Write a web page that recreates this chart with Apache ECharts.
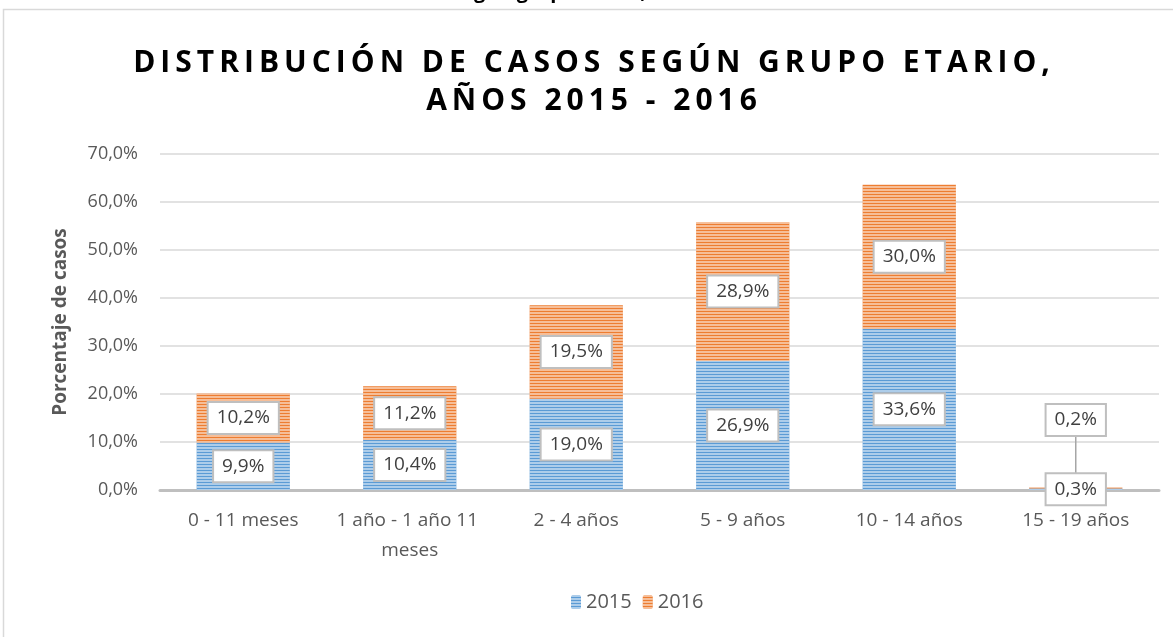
<!DOCTYPE html>
<html lang="es">
<head>
<meta charset="UTF-8">
<title>Distribución de casos según grupo etario</title>
<style>
    * { margin: 0; padding: 0; box-sizing: border-box; }
    html, body { width: 1173px; height: 637px; background: #fff; overflow: hidden; }
    #chart { position: absolute; left: 0; top: 0; width: 1173px; height: 637px; }
    .titulo {
        position: absolute;
        left: 0;
        top: 42px;
        width: 1188px;
        text-align: center;
        font-family: "Open Sans", sans-serif;
        font-weight: bold;
        font-size: 30px;
        line-height: 38px;
        letter-spacing: 5px;
        color: #000;
    }
</style>
</head>
<body>
<div id="chart"></div>
<div class="titulo">DISTRIBUCIÓN DE CASOS SEGÚN GRUPO ETARIO,<br>AÑOS 2015 - 2016</div>
<script src="https://cdn.jsdelivr.net/npm/echarts@6/dist/echarts.min.js"></script>
<script>
    // datos
    const grupos = ['0 - 11 meses', '1 año - 1 año 11 meses', '2 - 4 años', '5 - 9 años', '10 - 14 años', '15 - 19 años']
    const casos2015 = [9.9, 10.4, 19.0, 26.9, 33.6, 0.3]
    const casos2016 = [10.2, 11.2, 19.5, 28.9, 30.0, 0.2]
    const anios = ['2015', '2016']

    const fuente = '"Open Sans", sans-serif'
    const rayas = {
        symbol: 'rect',
        symbolSize: 1,
        dashArrayX: [1, 0],
        dashArrayY: [2, 1],
        rotation: 0,
        color: 'rgba(255,255,255,0.5)'
    }

    const etiqueta = {
        show: true,
        position: 'inside',
        formatter: p => p.value.toFixed(1).replace('.', ',') + '%',
        color: '#404040',
        fontFamily: fuente,
        fontSize: 19,
        backgroundColor: '#fff',
        borderColor: '#bfbfbf',
        borderWidth: 2,
        padding: [6, 8, 5, 8]
    }

    const chart = echarts.init(document.getElementById('chart'))

    const option = {
        animation: false,
        graphic: [
            {
                type: 'rect',
                shape: { x: 3.5, y: 9.5, width: 1300, height: 800 },
                style: { fill: null, stroke: '#d9d9d9', lineWidth: 1.5 },
                silent: true
            },
            {
                // título del documento, cortado arriba
                type: 'text',
                left: 235,
                top: -18,
                style: {
                    text: 'Distribución de casos según grupo etario, 2015 - 2016',
                    font: 'bold 20px "Open Sans", sans-serif',
                    fill: '#000'
                },
                silent: true
            }
        ],
        grid: { left: 160, right: 14, top: 154, bottom: 147 },
        legend: {
            data: anios,
            bottom: 20,
            left: 566,
            itemWidth: 10,
            itemHeight: 14,
            itemGap: 11,
            textStyle: { color: '#595959', fontSize: 20, fontFamily: fuente }
        },
        xAxis: {
            type: 'category',
            data: grupos,
            axisLine: { lineStyle: { color: '#bfbfbf', width: 3 } },
            axisTick: { show: false },
            axisLabel: {
                interval: 0,
                color: '#595959',
                fontSize: 19,
                fontFamily: fuente,
                margin: 16,
                width: 165,
                overflow: 'break',
                lineHeight: 30
            }
        },
        yAxis: {
            type: 'value',
            min: 0,
            max: 70,
            interval: 10,
            name: 'Porcentaje de casos',
            nameLocation: 'middle',
            nameGap: 90,
            nameTextStyle: { color: '#595959', fontSize: 19, fontWeight: 'bold', fontFamily: fuente },
            axisLabel: {
                color: '#595959',
                fontSize: 18,
                fontFamily: fuente,
                margin: 22,
                formatter: v => v.toFixed(1).replace('.', ',') + '%'
            },
            splitLine: { lineStyle: { color: '#d9d9d9', width: 1.5 } }
        },
        series: [
            {
                name: anios[0],
                type: 'bar',
                stack: 'total',
                barWidth: '56%',
                data: casos2015,
                itemStyle: { color: '#5b9bd5', decal: rayas },
                label: etiqueta
            },
            {
                name: anios[1],
                type: 'bar',
                stack: 'total',
                barWidth: '56%',
                data: casos2016,
                itemStyle: { color: '#ed7d31', decal: rayas },
                label: etiqueta,
                labelLine: { show: true, lineStyle: { color: '#a6a6a6', width: 1.5 } },
                labelLayout: p => p.dataIndex === 5 ? { dy: -68 } : {}
            }
        ]
    }

    chart.setOption(option)
</script>
</body>
</html>
